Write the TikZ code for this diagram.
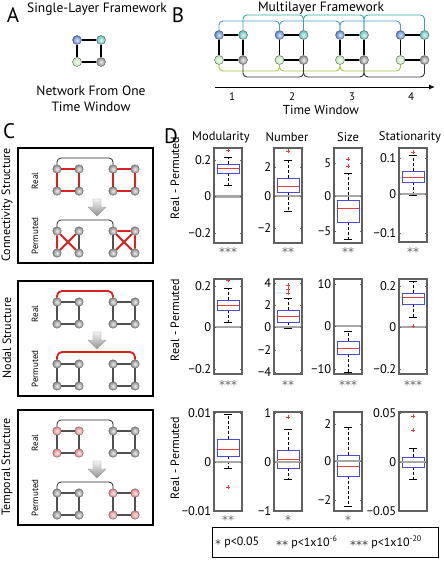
\documentclass[tikz,border=0pt]{standalone}
\usepackage{fontspec}
\setmainfont{PT Sans}
\newfontfamily\djv{DejaVu Sans}
\usetikzlibrary{arrows.meta}
\definecolor{nblue}{HTML}{4A7FD0}
\definecolor{nteal}{HTML}{55C0B8}
\definecolor{ngreen}{HTML}{BFE8B8}
\definecolor{ngray}{HTML}{8A8A8A}
\definecolor{npink}{HTML}{EC8080}
\definecolor{lblue}{HTML}{4A9ED2}
\definecolor{lteal}{HTML}{35A8AC}
\definecolor{lgreen}{HTML}{A4C639}
\definecolor{axgray}{HTML}{606060}
\definecolor{zgray}{HTML}{A8A8A8}
\definecolor{bxblue}{HTML}{4A4ADB}
\definecolor{mdred}{HTML}{E04040}
\definecolor{edgegray}{HTML}{505050}
\definecolor{rededge}{HTML}{DD1F1F}
\tikzset{
 ball/.style={circle, inner sep=0pt, minimum size=9pt, draw=black!65, line width=0.4pt, inner color=#1!15!white, outer color=#1},
 cball/.style={ball=#1, minimum size=8.5pt},
 bedge/.style={line width=1.8pt, black},
 cedge/.style={line width=1.2pt, edgegray},
 redge/.style={line width=1.8pt, rededge},
 brk/.style={line width=0.8pt, black!85, rounded corners=4pt},
 rbrk/.style={line width=1.8pt, rededge, rounded corners=5pt},
 plbl/.style={font=\fontsize{21}{21}\selectfont, inner sep=0pt},
 axframe/.style={draw=axgray, line width=1.1pt},
 zline/.style={zgray, line width=2.4pt},
 tlbl/.style={anchor=east, inner sep=1pt, font=\fontsize{12.5}{13}\selectfont},
 whisk/.style={black, line width=0.5pt, dash pattern=on 3pt off 2pt},
 capl/.style={black, line width=0.6pt},
 bxs/.style={draw=bxblue, line width=0.7pt},
 mds/.style={mdred, line width=0.7pt},
 starlbl/.style={font=\djv\fontsize{12}{12}\selectfont, text=black!60, inner sep=0pt},
 txt/.style={font=\fontsize{12}{13}\selectfont, inner sep=0pt},
 btxt/.style={font=\fontsize{13.5}{15}\selectfont, inner sep=0pt},
 htxt/.style={font=\fontsize{12.5}{14}\selectfont, inner sep=0pt},
 garrow/.style={top color=gray!10, bottom color=gray!85, draw=gray!75, line width=0.4pt},
}
\newcommand\lgstar[1]{\raisebox{-0.55ex}{{\djv\color{black!75}#1}}}
\newcommand\bplt[6]{%
 \draw[whisk] (#1,#2) -- (#1,#5);
 \draw[whisk] (#1,#3) -- (#1,#6);
 \draw[capl] (#1-4,#5) -- (#1+4,#5);
 \draw[capl] (#1-4,#6) -- (#1+4,#6);
 \draw[bxs] (#1-11,#2) rectangle (#1+11,#3);
 \draw[mds] (#1-11,#4) -- (#1+11,#4);}
\newcommand\outl[2]{\draw[mdred, line width=0.6pt] (#1-2,#2) -- (#1+2,#2) (#1,#2-2) -- (#1,#2+2);}
\newcommand\zl[3]{\draw[zline] (#1,#3) -- (#2,#3);}
\newcommand\frm[4]{\draw[axframe] (#1,#2) rectangle (#3,#4);}
\newcommand\tk[5]{%
 \draw[axgray, line width=0.5pt] (#2,#4) -- (#2+2,#4) (#3,#4) -- (#3-2,#4);
 \node[tlbl] (#1) at (#2-1.5,#4) {#5};}
\newcommand\csq[5]{%
 \node[cball=#4] (#1-1) at (57,#2) {};
 \node[cball=#4] (#1-2) at (79,#2) {};
 \node[cball=#4] (#1-3) at (57,#3) {};
 \node[cball=#4] (#1-4) at (79,#3) {};
 \node[cball=#5] (#1-5) at (113,#2) {};
 \node[cball=#5] (#1-6) at (135,#2) {};
 \node[cball=#5] (#1-7) at (113,#3) {};
 \node[cball=#5] (#1-8) at (135,#3) {};}
\newcommand\sqall[2]{%
 \draw[#2] (#1-1) -- (#1-2) (#1-1) -- (#1-3) (#1-2) -- (#1-4) (#1-3) -- (#1-4);
 \draw[#2] (#1-5) -- (#1-6) (#1-5) -- (#1-7) (#1-6) -- (#1-8) (#1-7) -- (#1-8);}
\begin{document}
\begin{tikzpicture}[x=1pt,y=-1pt]
\useasboundingbox (0,0) rectangle (444,568);
\fill[white] (0,0) rectangle (444,568);

% ---------- Panel A ----------
\node[plbl] (lA) at (13,15) {A};
\node[btxt, anchor=west] (tA) at (27,9) {Single-Layer Framework};
\node[ball=nblue] (a1) at (77,40) {};
\node[ball=nteal] (a2) at (101,40) {};
\node[ball=ngreen] (a3) at (77,62) {};
\node[ball=ngray] (a4) at (101,62) {};
\draw[bedge] (a1) -- (a2) (a1) -- (a3) (a2) -- (a4) (a3) -- (a4);
\node[btxt] (tA2) at (91,91) {Network From One};
\node[btxt] (tA3) at (91,107) {Time Window};

% ---------- Panel B ----------
\node[plbl] (lB) at (178,15) {B};
\node[btxt] (tB) at (321,8) {Multilayer Framework};
\foreach \i/\x in {0/219,1/279.5,2/340,3/400.5}{
 \node[ball=nblue] (b\i-1) at (\x,35) {};
 \node[ball=nteal] (b\i-2) at (\x+24,35) {};
 \node[ball=ngreen] (b\i-3) at (\x,60) {};
 \node[ball=ngray] (b\i-4) at (\x+24,60) {};
 \draw[bedge] (b\i-1) -- (b\i-2) (b\i-1) -- (b\i-3) (b\i-2) -- (b\i-4) (b\i-3) -- (b\i-4);
}
\coordinate (lvTeal) at (0,15);
\coordinate (lvBlue) at (0,21);
\coordinate (lvGreen) at (0,71);
\coordinate (lvBlack) at (0,77);
\foreach \i/\j in {0/1,1/2,2/3}{
 \draw[lblue, line width=0.9pt, rounded corners=4pt] (b\i-1.north) -- (b\i-1.north |- lvBlue) -- (b\j-1.north |- lvBlue) -- (b\j-1.north);
 \draw[lteal, line width=0.9pt, rounded corners=4pt] (b\i-2.north) -- (b\i-2.north |- lvTeal) -- (b\j-2.north |- lvTeal) -- (b\j-2.north);
 \draw[lgreen, line width=0.9pt, rounded corners=4pt] (b\i-3.south) -- (b\i-3.south |- lvGreen) -- (b\j-3.south |- lvGreen) -- (b\j-3.south);
 \draw[black!80, line width=0.9pt, rounded corners=4pt] (b\i-4.south) -- (b\i-4.south |- lvBlack) -- (b\j-4.south |- lvBlack) -- (b\j-4.south);
}
\coordinate (axs) at (215,87);
\coordinate (axe) at (435,87);
\draw[line width=1pt, -{Latex[length=6pt, width=5pt]}] (axs) -- (axe);
\node[txt, font=\fontsize{11}{11}\selectfont] (t1) at (232,97) {1};
\node[txt, font=\fontsize{11}{11}\selectfont] (t2) at (292,97) {2};
\node[txt, font=\fontsize{11}{11}\selectfont] (t3) at (352,97) {3};
\node[txt, font=\fontsize{11}{11}\selectfont] (t4) at (411,97) {4};
\node[btxt, font=\fontsize{13}{13}\selectfont] (tBw) at (321,110) {Time Window};

% ---------- Panel C ----------
\node[plbl] (lC) at (9,131) {C};
% box 1
\draw[line width=1.6pt] (18,148) rectangle (153,263);
\node[txt, rotate=90] (cl1) at (7,205) {Connectivity Structure};
\node[txt, rotate=90, font=\fontsize{9}{10}\selectfont] (r1) at (35,181) {Real};
\node[txt, rotate=90, font=\fontsize{9}{10}\selectfont] (p1) at (35,236) {Permuted};
\csq{c1r}{169}{191}{ngray}{ngray}
\sqall{c1r}{redge}
\coordinate (c1rb) at (0,158);
\draw[brk] (c1r-1.north) -- (c1r-1.north |- c1rb) -- (c1r-5.north |- c1rb) -- (c1r-5.north);
\shade[garrow] (93,199) -- (101,199) -- (101,207) -- (106,207) -- (97,216) -- (88,207) -- (93,207) -- cycle;
\csq{c1p}{231}{253}{ngray}{ngray}
\draw[cedge] (c1p-2) -- (c1p-4) (c1p-5) -- (c1p-7);
\draw[redge] (c1p-1) -- (c1p-3) (c1p-1) -- (c1p-4) (c1p-2) -- (c1p-3);
\draw[redge] (c1p-5) -- (c1p-6) (c1p-6) -- (c1p-8) (c1p-5) -- (c1p-8) (c1p-6) -- (c1p-7);
\coordinate (c1pb) at (0,220);
\draw[brk] (c1p-1.north) -- (c1p-1.north |- c1pb) -- (c1p-5.north |- c1pb) -- (c1p-5.north);

% box 2
\draw[line width=1.6pt] (18,281) rectangle (153,396);
\node[txt, rotate=90] (cl2) at (7,338) {Nodal Structure};
\node[txt, rotate=90, font=\fontsize{9}{10}\selectfont] (r2) at (35,314) {Real};
\node[txt, rotate=90, font=\fontsize{9}{10}\selectfont] (p2) at (35,369) {Permuted};
\csq{c2r}{302}{324}{ngray}{ngray}
\sqall{c2r}{cedge}
\coordinate (c2rb) at (0,291);
\draw[rbrk] (c2r-1.north) -- (c2r-1.north |- c2rb) -- (c2r-5.north |- c2rb) -- (c2r-5.north);
\shade[garrow] (93,332) -- (101,332) -- (101,340) -- (106,340) -- (97,349) -- (88,340) -- (93,340) -- cycle;
\csq{c2p}{364}{386}{ngray}{ngray}
\sqall{c2p}{cedge}
\coordinate (c2pb) at (0,352);
\draw[rbrk] (c2p-1.north) -- (c2p-1.north |- c2pb) -- (c2p-6.north |- c2pb) -- (c2p-6.north);

% box 3
\draw[line width=1.6pt] (18,410) rectangle (153,525);
\node[txt, rotate=90] (cl3) at (7,467) {Temporal Structure};
\node[txt, rotate=90, font=\fontsize{9}{10}\selectfont] (r3) at (35,443) {Real};
\node[txt, rotate=90, font=\fontsize{9}{10}\selectfont] (p3) at (35,498) {Permuted};
\csq{c3r}{431}{453}{npink}{ngray}
\sqall{c3r}{cedge}
\coordinate (c3rb) at (0,420);
\draw[brk] (c3r-1.north) -- (c3r-1.north |- c3rb) -- (c3r-5.north |- c3rb) -- (c3r-5.north);
\shade[garrow] (93,461) -- (101,461) -- (101,469) -- (106,469) -- (97,478) -- (88,469) -- (93,469) -- cycle;
\csq{c3p}{493}{515}{ngray}{npink}
\sqall{c3p}{cedge}
\coordinate (c3pb) at (0,482);
\draw[brk] (c3p-1.north) -- (c3p-1.north |- c3pb) -- (c3p-5.north |- c3pb) -- (c3p-5.north);

% ---------- Panel D ----------
\node[plbl] (lD) at (171,136) {D};
\node[htxt] (hM) at (221,137) {Modularity};
\node[htxt] (hN) at (287,137) {Number};
\node[htxt] (hS) at (348,137) {Size};
\node[htxt] (hT) at (410,137) {Stationarity};
\node[txt, rotate=90] (yl1) at (175,178) {Real - Permuted};
\node[txt, rotate=90] (yl2) at (175,320) {Real - Permuted};
\node[txt, rotate=90] (yl3) at (175,458) {Real - Permuted};

% row 1
\bplt{228}{164}{173}{168}{157}{185}\outl{228}{150}\zl{214}{242}{196.5}\frm{214}{148}{242}{243}
\tk{m1a}{214}{242}{160}{0.2}\tk{m1b}{214}{242}{196.5}{0}\tk{m1c}{214}{242}{233}{−0.2}
\bplt{288}{178}{192}{186}{160}{211}\outl{288}{151}\zl{274}{302}{196}\frm{274}{148}{302}{243}
\tk{n1a}{274}{302}{167}{2}\tk{n1b}{274}{302}{196}{0}\tk{n1c}{274}{302}{228}{−2}
\bplt{348}{200}{222}{208}{173}{239}\outl{348}{159}\outl{348}{166}\zl{334}{362}{196}\frm{334}{148}{362}{243}
\tk{s1a}{334}{362}{163}{5}\tk{s1b}{334}{362}{196}{0}\tk{s1c}{334}{362}{231}{−5}
\bplt{413}{171}{182}{177}{155}{195}\outl{413}{152}\zl{399}{427}{194}\frm{399}{148}{427}{242}
\tk{t1a}{399}{427}{158}{0.1}\tk{t1b}{399}{427}{194}{0}\tk{t1c}{399}{427}{233}{−0.1}
\node[starlbl] (st1a) at (228,252) {***};
\node[starlbl] (st1b) at (288,252) {**};
\node[starlbl] (st1c) at (348,252) {**};
\node[starlbl] (st1d) at (413,252) {**};

% row 2
\bplt{228}{300}{310}{305}{288}{322}\outl{228}{280}\zl{214}{242}{327}\frm{214}{279}{242}{374}
\tk{m2a}{214}{242}{286}{0.2}\tk{m2b}{214}{242}{327}{0}\tk{m2c}{214}{242}{369}{−0.2}
\bplt{288}{310}{322}{316}{298}{328}\outl{288}{285}\outl{288}{289}\outl{288}{293}\zl{274}{302}{327}\frm{274}{279}{302}{374}
\tk{n2a}{274}{302}{283}{4}\tk{n2b}{274}{302}{305}{2}\tk{n2c}{274}{302}{327}{0}\tk{n2d}{274}{302}{350}{−2}\tk{n2e}{274}{302}{372}{−4}
\bplt{348}{341}{354}{348}{331}{372}\zl{334}{362}{326}\frm{334}{279}{362}{374}
\tk{s2a}{334}{362}{284}{10}\tk{s2b}{334}{362}{326}{0}\tk{s2c}{334}{362}{369}{−10}
\bplt{413}{293}{304}{297}{281}{317}\zl{399}{427}{327}\outl{413}{326}\frm{399}{279}{427}{374}
\tk{t2a}{399}{427}{286}{0.2}\tk{t2b}{399}{427}{327}{0}\tk{t2c}{399}{427}{369}{−0.2}
\node[starlbl] (st2a) at (228,385) {***};
\node[starlbl] (st2b) at (288,385) {**};
\node[starlbl] (st2c) at (348,385) {***};
\node[starlbl] (st2d) at (413,385) {***};

% row 3
\bplt{228}{439}{456}{449}{414}{468}\outl{228}{487}\zl{214}{242}{462}\frm{214}{412}{242}{511}
\tk{m3a}{214}{242}{413}{0.01}\tk{m3b}{214}{242}{462}{0}\tk{m3c}{214}{242}{511}{−0.01}
\bplt{288}{450}{468}{459}{429}{479}\outl{288}{417}\zl{274}{302}{462}\frm{274}{412}{302}{511}
\tk{n3a}{274}{302}{413}{1}\tk{n3b}{274}{302}{462}{0}\tk{n3c}{274}{302}{511}{−1}
\bplt{348}{455}{476}{466}{427}{506}\zl{334}{362}{461}\frm{334}{412}{362}{511}
\tk{s3a}{334}{362}{424}{2}\tk{s3b}{334}{362}{461}{0}\tk{s3c}{334}{362}{500}{−2}
\bplt{413}{457}{467}{462}{448}{479}\outl{413}{416}\outl{413}{430}\zl{399}{427}{462}\frm{399}{412}{427}{511}
\tk{t3a}{399}{427}{413}{0.05}\tk{t3b}{399}{427}{462}{0}\tk{t3c}{399}{427}{511}{−0.05}
\node[starlbl] (st3a) at (228,520) {**};
\node[starlbl] (st3b) at (288,520) {*};
\node[starlbl] (st3c) at (348,520) {*};

% legend
\draw[line width=0.8pt] (212,527) rectangle (438,557);
\node[txt, anchor=west, font=\fontsize{12}{13}\selectfont] (lg1) at (215,543) {\lgstar{*} p<0.05};
\node[txt, anchor=west, font=\fontsize{12}{13}\selectfont] (lg2) at (276,543) {\lgstar{**} p<1x10\raisebox{0.8ex}{\fontsize{8}{8}\selectfont -6}};
\node[txt, anchor=west, font=\fontsize{12}{13}\selectfont] (lg3) at (350,543) {\lgstar{***} p<1x10\raisebox{0.8ex}{\fontsize{8}{8}\selectfont -20}};
\end{tikzpicture}
\end{document}
